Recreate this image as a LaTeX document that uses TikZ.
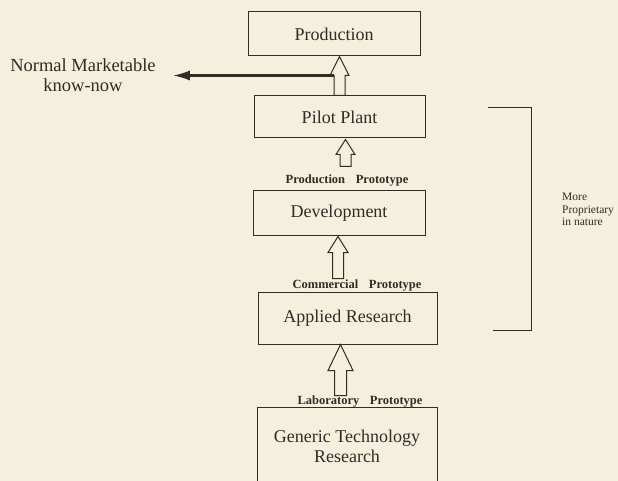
\documentclass[tikz,border=0pt]{standalone}
\usepackage{fontspec}
\setmainfont{Liberation Serif}
\usetikzlibrary{calc,arrows.meta}
\definecolor{paper}{RGB}{244,240,222}
\definecolor{ink}{RGB}{48,44,38}
\newcommand\blockarrow[5]{% bottom, tip, shaft half-width, head half-width, head length
  \draw[blk] ($(#1)+(-#3,0)$) -- ($(#2)+(-#3,#5)$) -- ($(#2)+(-#4,#5)$) -- (#2)
    -- ($(#2)+(#4,#5)$) -- ($(#2)+(#3,#5)$) -- ($(#1)+(#3,0)$) -- cycle;}
\begin{document}
\begin{tikzpicture}[x=1pt,y=-1pt,
  box/.style={draw=ink,line width=1pt,rectangle,inner sep=0pt,text=ink,
    font=\fontsize{18}{20}\selectfont,align=center},
  lbl/.style={text=ink,inner sep=0pt,font=\fontsize{12.5}{14}\bfseries},
  blk/.style={draw=ink,line width=1pt,fill=paper,line join=miter},
  side/.style={text=ink,inner sep=0pt,align=left,font=\fontsize{11.5}{12.5}\selectfont},
  brk/.style={draw=ink,line width=1pt}]
\fill[paper] (0,0) rectangle (618,481);
\useasboundingbox (0,0) rectangle (618,481);
\clip (0,0) rectangle (618,481);

% boxes
\node[box,minimum width=172pt,minimum height=44pt] (prod) at (334,34) {Production};
\node[box,minimum width=171pt,minimum height=42pt] (pp) at (339.5,117) {Pilot Plant};
\node[box,minimum width=172pt,minimum height=44pt] (dev) at (339,213) {Development};
\node[box,minimum width=179pt,minimum height=52pt] (ar) at (347.5,318) {Applied Research};
\node[box,minimum width=180pt,minimum height=78pt] (gen) at (347,446) {Generic Technology\\Research};

% labels
\node[lbl] (lp1) at (347,181) {Production\hspace{0.6em} Prototype};
\node[lbl] (lp2) at (357,286) {Commercial\hspace{0.6em} Prototype};
\node[lbl] (lp3) at (360,402) {Laboratory\hspace{0.6em} Prototype};

% left output
\node[text=ink,inner sep=0pt,align=center,font=\fontsize{18.5}{20}\selectfont] (nm) at (83,75)
  {Normal Marketable\\know-now};

% block arrows
\coordinate (a1b) at (pp.north);
\coordinate (a1t) at (pp.north |- prod.south);
\blockarrow{a1b}{a1t}{5.5}{9.5}{19}
\coordinate (branch) at ($(pp.north)+(-5.5,-20)$);
\draw[draw=ink,line width=2.2pt,shorten >=17pt,-{Latex[length=17pt,width=10pt]}] (branch) -- (branch -| nm.east);

\coordinate (a2t) at ($(pp.south)+(6,1)$);
\coordinate (a2b) at ($(a2t)+(0,27)$);
\blockarrow{a2b}{a2t}{5.5}{9.5}{15}

\coordinate (a3t) at ($(dev.south)+(-1,1)$);
\coordinate (a3b) at ($(a3t)+(0,42)$);
\blockarrow{a3b}{a3t}{5.5}{10}{16}

\coordinate (a4t) at ($(ar.south)+(-7,0)$);
\coordinate (a4b) at ($(a4t)+(0,51)$);
\blockarrow{a4b}{a4t}{6}{12.5}{26}

% bracket
\coordinate (bt1) at (488,108);
\coordinate (bt2) at (531,108);
\coordinate (bb2) at (531,330);
\coordinate (bb1) at (493,330);
\draw[brk] (bt1) -- (bt2) -- (bb2) -- (bb1);
\node[side,anchor=north west] (more) at (562,193) {More\\Proprietary\\in nature};
\end{tikzpicture}
\end{document}
